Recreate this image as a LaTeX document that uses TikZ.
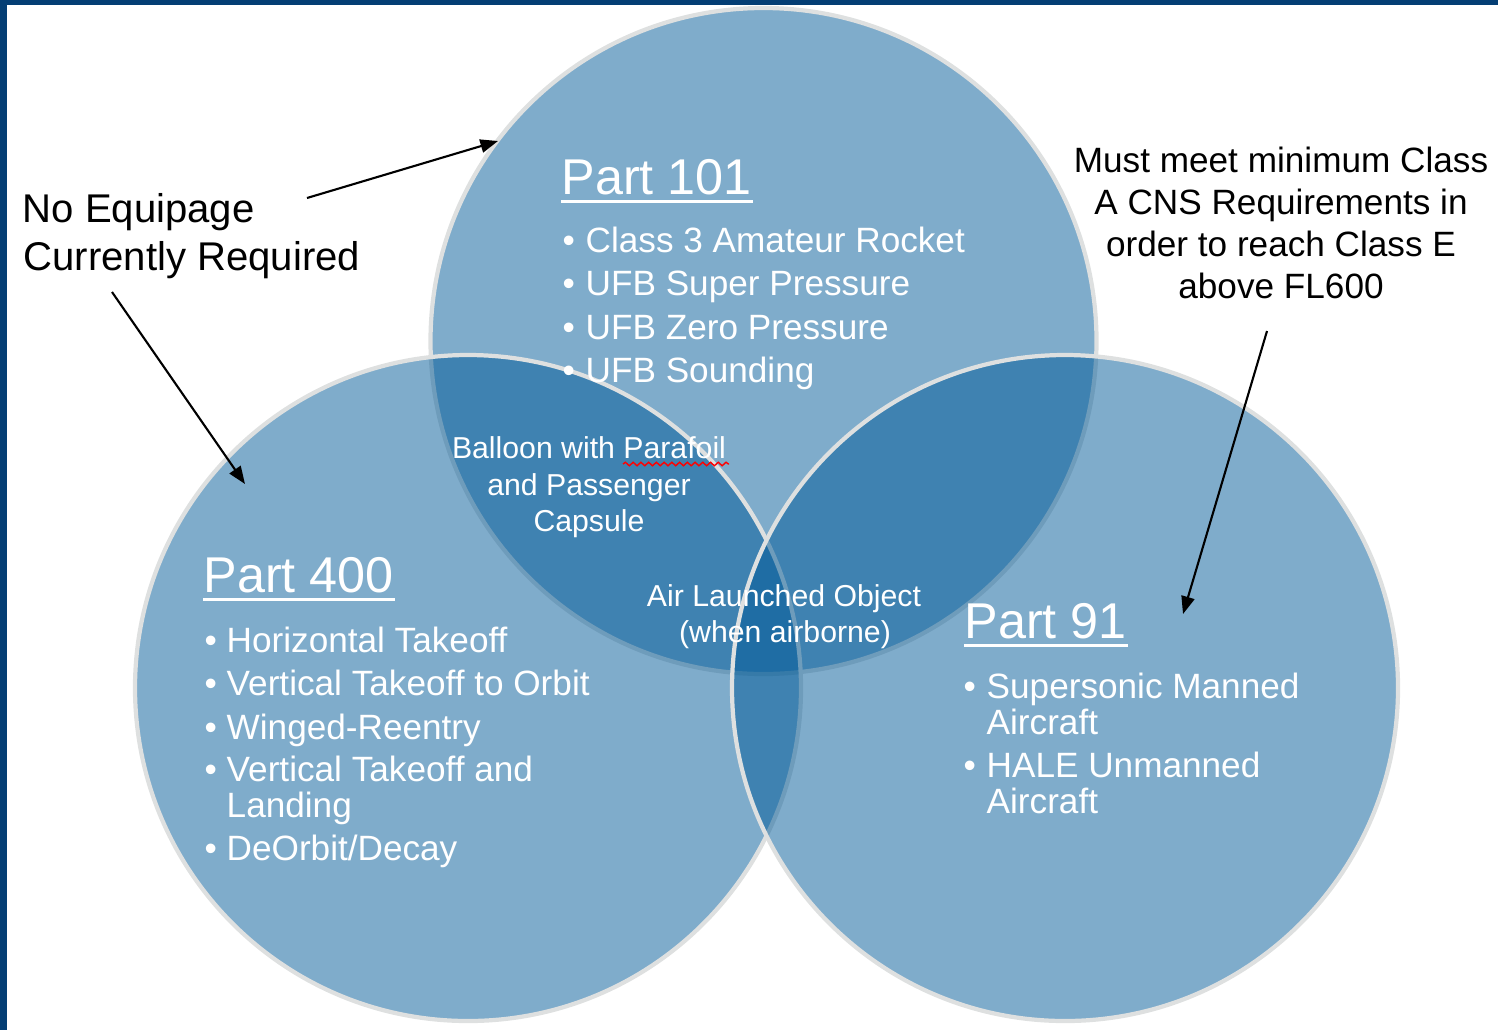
\documentclass[tikz,border=0pt]{standalone}
\usepackage{fontspec}
\setmainfont{Liberation Sans}
\usetikzlibrary{arrows.meta,decorations.pathmorphing}
\definecolor{frameblue}{RGB}{4,62,116}
\definecolor{vennfill}{RGB}{0,89,151}
\definecolor{vennedge}{RGB}{222,224,224}
\begin{document}
\begin{tikzpicture}[x=0.01cm,y=-0.01cm,
  venn/.style={fill=vennfill,fill opacity=0.5,draw=vennedge,draw opacity=1,line width=1.2pt},
  head/.style={inner sep=0pt,anchor=base west,text=white,font=\fontsize{14.3pt}{16pt}\selectfont},
  item/.style={inner sep=0pt,anchor=base west,text=white,font=\fontsize{10pt}{12pt}\selectfont},
  dot/.style={inner sep=0pt,anchor=base west,text=white,font=\fontsize{10pt}{12pt}\selectfont},
  overlap/.style={inner sep=0pt,anchor=base,text=white,font=\fontsize{8.6pt}{10pt}\selectfont},
  noteL/.style={inner sep=0pt,anchor=base west,text=black,font=\fontsize{11.4pt}{13pt}\selectfont},
  noteR/.style={inner sep=0pt,anchor=base,text=black,font=\fontsize{10pt}{12pt}\selectfont},
  uline/.style={draw=white,line width=0.85pt},
  pointer/.style={draw=black,line width=0.6pt,-{Triangle[length=5pt,width=3.8pt]}}]

\useasboundingbox (0,0) rectangle (1498,1030);
% frame strips along the top and left
\fill[frameblue] (0,0) rectangle (1498,5);
\fill[frameblue] (0,0) rectangle (7,1030);

% the three sets
\path[venn] (763.5,341) circle[radius=333];
\path[venn] (468,688) circle[radius=333];
\path[venn] (1065,688) circle[radius=333];

% Part 101
\node[head] (p101) at (561,194) {Part 101};
\draw[uline] ([shift={(0,7)}]p101.base west) -- ([shift={(0,7)}]p101.base east);
\node[dot] (b101a) at (562,252) {•};
\node[item] (i101a) at (585,252) {Class 3 Amateur Rocket};
\node[dot] (b101b) at (562,295) {•};
\node[item] (i101b) at (585,295) {UFB Super Pressure};
\node[dot] (b101c) at (562,339) {•};
\node[item] (i101c) at (585,339) {UFB Zero Pressure};
\node[dot] (b101d) at (562,382) {•};
\node[item] (i101d) at (585,382) {UFB Sounding};

% Part 400
\node[head] (p400) at (203,592) {Part 400};
\draw[uline] ([shift={(0,7)}]p400.base west) -- ([shift={(0,7)}]p400.base east);
\node[dot] (b400a) at (204,652) {•};
\node[item] (i400a) at (226,652) {Horizontal Takeoff};
\node[dot] (b400b) at (204,695) {•};
\node[item] (i400b) at (226,695) {Vertical Takeoff to Orbit};
\node[dot] (b400c) at (204,739) {•};
\node[item] (i400c) at (226,739) {Winged-Reentry};
\node[dot] (b400d) at (204,781) {•};
\node[item] (i400d) at (226,781) {Vertical Takeoff and};
\node[item] (i400e) at (226,817) {Landing};
\node[dot] (b400f) at (204,860) {•};
\node[item] (i400f) at (226,860) {DeOrbit/Decay};

% Part 91
\node[head] (p91) at (964,638) {Part 91};
\draw[uline] ([shift={(0,7)}]p91.base west) -- ([shift={(0,7)}]p91.base east);
\node[dot] (b91a) at (963,698) {•};
\node[item] (i91a) at (986,698) {Supersonic Manned};
\node[item] (i91b) at (986,734) {Aircraft};
\node[dot] (b91c) at (963,777) {•};
\node[item] (i91c) at (986,777) {HALE Unmanned};
\node[item] (i91d) at (986,813) {Aircraft};

% overlap labels
\node[overlap] (ov1) at (589,458) {Balloon with Parafoil};
\node[overlap] (ov2) at (589,495) {and Passenger};
\node[overlap] (ov3) at (589,531) {Capsule};
\node[overlap] (ov4) at (784,606) {Air Launched Object};
\node[overlap] (ov5) at (785,642) {(when airborne)};
\draw[red,line width=0.4pt,decorate,decoration={snake,amplitude=0.5pt,segment length=2.2pt}]
  (623,464) -- (729,464);

% annotations
\node[noteL] (eqA) at (22,222) {No Equipage};
\node[noteL] (eqB) at (23,270) {Currently Required};
\node[noteR] (cnsA) at (1281,172) {Must meet minimum Class};
\node[noteR] (cnsB) at (1281,214) {A CNS Requirements in};
\node[noteR] (cnsC) at (1281,256) {order to reach Class E};
\node[noteR] (cnsD) at (1281,298) {above FL600};

% pointers
\coordinate (a1s) at (307,198);
\coordinate (a1e) at (498,141);
\coordinate (a2s) at (112,292);
\coordinate (a2e) at (245,484);
\coordinate (a3s) at (1267,331);
\coordinate (a3e) at (1183,614);
\draw[pointer] (a1s) -- (a1e);
\draw[pointer] (a2s) -- (a2e);
\draw[pointer] (a3s) -- (a3e);
\end{tikzpicture}
\end{document}
